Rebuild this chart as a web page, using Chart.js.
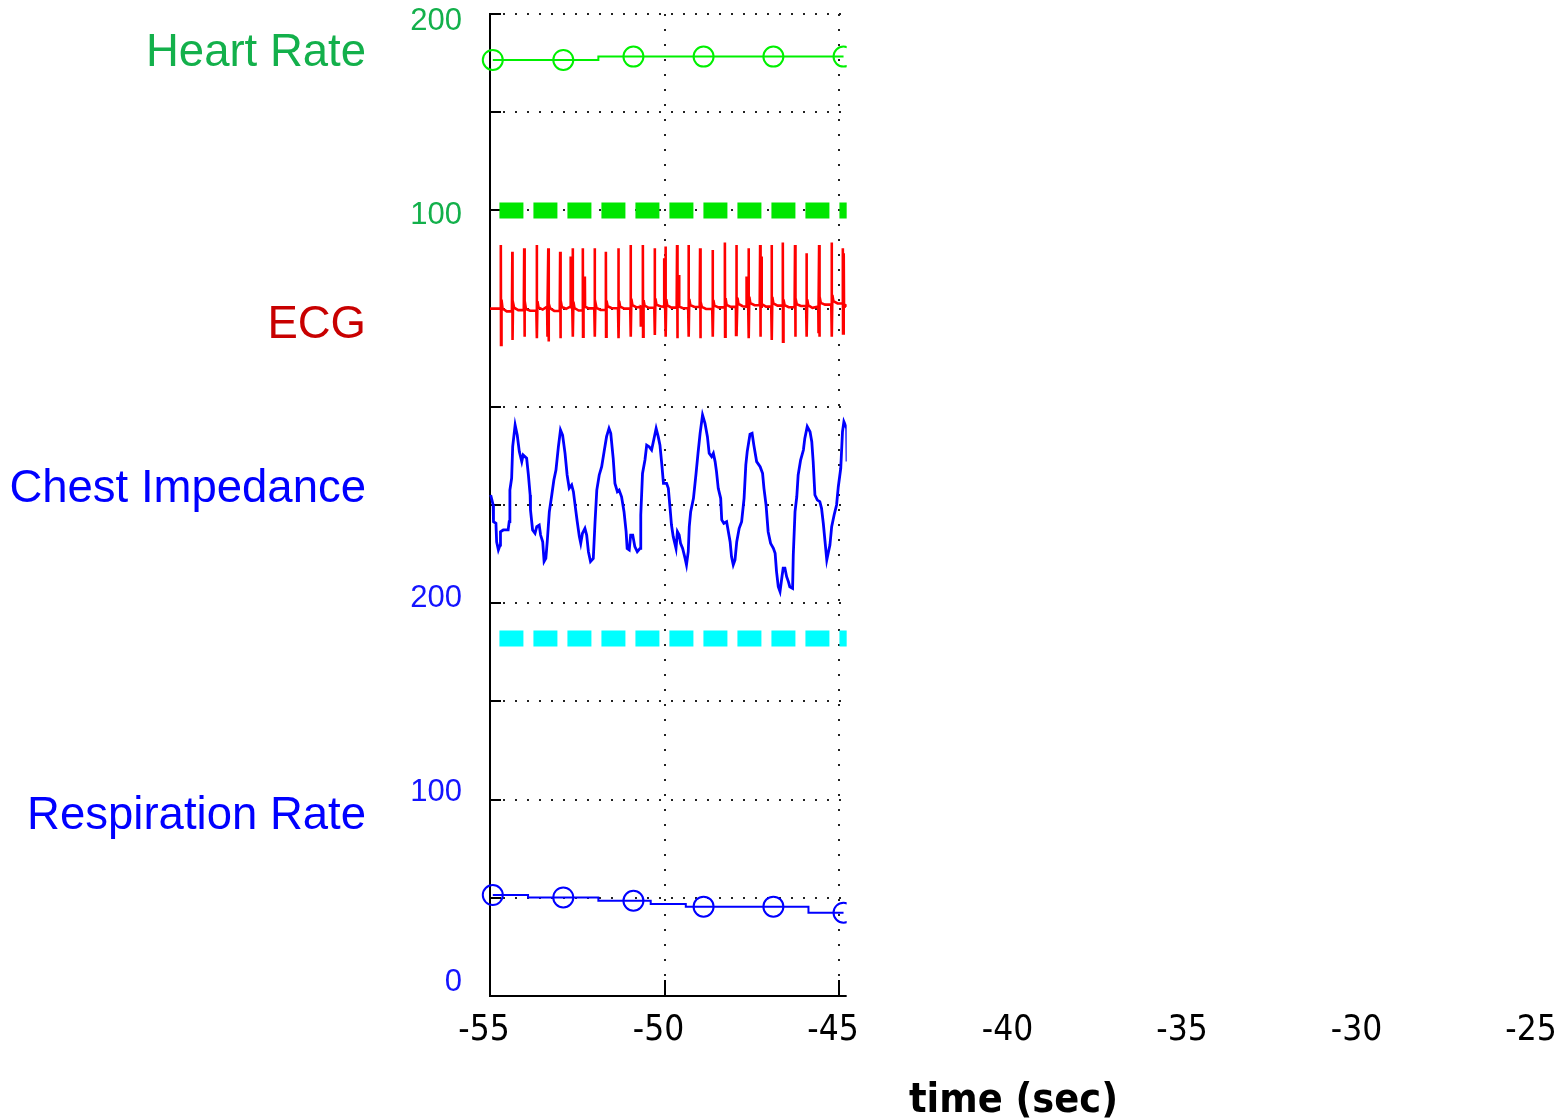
<!DOCTYPE html>
<html>
<head>
<meta charset="utf-8">
<title>Vital signs strip</title>
<script src="https://cdn.jsdelivr.net/npm/chart.js@4.4.1/dist/chart.umd.min.js"></script>
<style>
  html, body { margin: 0; padding: 0; background: #fff; }
  #strip { display: block; }
</style>
</head>
<body>
<canvas id="strip" width="1564" height="1118"></canvas>
<script>
// time window (seconds before now); samples stop at recordEnd
const axisMin = -55, axisMax = -25, recordEnd = -44.78;

// y strip runs 0..500: respiration 0..200 at the bottom, heart rate 100..200 on top (offset by hrOffset)
const hrOffset = 300;
const gridStep = 50;
const yTickValues = [0, 100, 200, 400, 500];
const yTickLabels = ['0', '100', '200', '100', '200'];

// heart rate (bpm), one value every 2 s
const hrTime = [-54.92, -52.90, -50.89, -48.88, -46.88, -44.87];
const hrBpm  = [176.6, 176.6, 178.3, 178.3, 178.3, 178.3];
const hrAlarm = 100;

// respiration rate (breaths/min); the sample at -49.9 has no marker
const respTime   = [-54.92, -52.90, -50.89, -49.90, -48.88, -46.88, -44.87];
const respRate   = [51.4, 50.2, 48.5, 46.8, 45.5, 45.5, 42.4];
const respMarked = [true, true, true, false, true, true, true];
const respAlarm = 182;

// ECG beats (strip units): R peak, S trough, J point, baseline after the beat, mid-interval level
const ecgBeatTime = [-54.69, -54.36, -54.02, -53.66, -53.33, -52.99, -52.63, -52.34, -52.00, -51.68,
                     -51.32, -50.97, -50.62, -50.28, -49.97, -49.64, -49.31, -48.98, -48.62, -48.27,
                     -47.93, -47.59, -47.26, -46.93, -46.61, -46.26, -45.93, -45.57, -45.21, -44.89];
const ecgR = [382.4, 379.0, 380.7, 382.4, 380.7, 379.0, 380.7, 380.7, 380.7, 379.0,
              380.7, 382.4, 382.4, 380.7, 381.6, 382.4, 382.4, 380.7, 379.9, 383.6,
              382.4, 380.7, 382.4, 382.4, 383.6, 382.4, 378.2, 382.4, 383.6, 380.7];
const ecgS = [331.5, 334.0, 335.7, 334.9, 333.2, 334.9, 335.7, 335.7, 335.7, 335.7,
              334.9, 335.7, 335.7, 336.6, 335.7, 334.9, 335.7, 334.9, 335.7, 335.7,
              336.6, 334.9, 335.7, 334.0, 333.2, 335.7, 335.7, 335.7, 335.7, 337.4];
const ecgJ = [354.5, 353.0, 354.0, 353.8, 352.6, 354.2, 353.5, 354.6, 353.1, 354.0,
              353.9, 355.0, 354.3, 355.2, 354.8, 353.9, 354.9, 353.6, 354.4, 355.3,
              355.5, 356.0, 355.1, 355.9, 354.6, 355.4, 354.7, 356.1, 357.0, 355.2];
const ecgBase = [350.0, 350.5, 349.8, 350.6, 350.2, 350.8, 350.3, 351.0, 350.4, 351.2,
                 351.0, 351.8, 351.5, 352.0, 351.6, 351.2, 351.8, 350.9, 351.5, 351.9,
                 352.4, 352.8, 352.3, 352.6, 351.8, 352.2, 351.6, 352.9, 353.8, 352.0];
const ecgMid = [348.6, 349.2, 348.9, 349.5, 348.8, 349.9, 349.0, 350.1, 349.3, 350.2,
                350.0, 350.6, 350.4, 351.1, 350.5, 350.2, 350.8, 349.8, 350.6, 350.9,
                351.2, 351.7, 351.0, 351.5, 350.7, 351.3, 350.4, 352.0, 352.6, 351.0];
// extra notches next to some beats
const ecgExtraTime  = [-53.36, -52.69, -52.28, -50.68, -50.01, -49.58, -47.95, -47.65, -47.22, -45.59, -44.86];
const ecgExtraValue = [335.7, 376.5, 366.3, 340.8, 375.6, 367.1, 336.6, 366.3, 376.5, 337.4, 378.2];

// chest impedance trace (strip units)
const impTime = [-54.98, -54.91, -54.90, -54.83, -54.81, -54.76, -54.71, -54.70, -54.62, -54.48,
  -54.45, -54.43, -54.38, -54.35, -54.28, -54.22, -54.16, -54.09, -54.05, -53.95,
  -53.90, -53.85, -53.84, -53.78, -53.71, -53.66, -53.59, -53.55, -53.49, -53.45,
  -53.40, -53.36, -53.30, -53.23, -53.17, -53.11, -53.04, -52.98, -52.92, -52.85,
  -52.79, -52.73, -52.66, -52.61, -52.55, -52.50, -52.44, -52.40, -52.35, -52.28,
  -52.23, -52.18, -52.12, -52.04, -51.99, -51.94, -51.87, -51.80, -51.73, -51.66,
  -51.59, -51.54, -51.47, -51.42, -51.35, -51.30, -51.23, -51.16, -51.10, -51.07,
  -51.01, -50.97, -50.91, -50.85, -50.78, -50.70, -50.68, -50.63, -50.56, -50.51,
  -50.44, -50.37, -50.30, -50.24, -50.18, -50.13, -50.08, -50.03, -49.94, -49.89,
  -49.84, -49.80, -49.75, -49.67, -49.63, -49.58, -49.54, -49.48, -49.41, -49.37,
  -49.32, -49.29, -49.25, -49.17, -49.10, -49.04, -48.98, -48.91, -48.84, -48.77,
  -48.72, -48.65, -48.60, -48.55, -48.51, -48.46, -48.39, -48.36, -48.30, -48.22,
  -48.17, -48.12, -48.08, -48.03, -47.98, -47.93, -47.86, -47.79, -47.72, -47.67,
  -47.63, -47.55, -47.49, -47.44, -47.36, -47.26, -47.19, -47.15, -47.09, -47.03,
  -46.96, -46.88, -46.83, -46.79, -46.74, -46.69, -46.64, -46.60, -46.55, -46.50,
  -46.45, -46.41, -46.33, -46.31, -46.26, -46.21, -46.17, -46.10, -46.02, -45.98,
  -45.91, -45.83, -45.78, -45.74, -45.69, -45.62, -45.55, -45.50, -45.45, -45.40,
  -45.35, -45.31, -45.26, -45.21, -45.14, -45.07, -45.02, -44.95, -44.90, -44.86,
  -44.78, -44.77];
const impValue = [255.1, 250.0, 241.5, 240.7, 231.3, 227.1, 229.6, 236.4, 237.3, 237.3,
  241.5, 257.6, 263.6, 279.7, 290.7, 285.6, 277.2, 272.1, 275.5, 273.8,
  265.3, 255.1, 247.5, 237.3, 235.6, 239.0, 239.8, 234.7, 231.3, 221.2,
  222.8, 231.3, 246.6, 255.1, 262.7, 267.8, 279.7, 288.2, 285.6, 276.3,
  265.3, 258.5, 260.2, 256.8, 248.3, 241.5, 233.9, 230.5, 235.6, 238.1,
  234.7, 226.2, 221.2, 222.8, 241.5, 257.6, 265.3, 269.5, 277.2, 284.8,
  289.0, 286.5, 273.8, 261.0, 256.8, 257.6, 254.2, 246.6, 236.4, 227.9,
  227.1, 234.7, 234.7, 228.8, 226.2, 227.9, 244.9, 266.1, 272.9, 280.5,
  279.7, 278.0, 283.9, 289.0, 284.8, 280.5, 271.2, 261.0, 261.0, 258.5,
  248.3, 239.8, 233.9, 227.9, 236.4, 234.7, 230.5, 227.9, 222.8, 219.5,
  226.2, 239.0, 246.6, 253.4, 265.3, 276.3, 286.5, 295.8, 291.6, 284.8,
  276.3, 274.6, 276.3, 272.1, 267.0, 258.5, 253.4, 242.4, 240.7, 241.5,
  236.4, 231.3, 223.7, 219.5, 222.0, 231.3, 238.1, 241.5, 253.4, 270.4,
  277.2, 286.0, 286.5, 280.5, 272.1, 269.5, 266.1, 258.5, 250.0, 236.4,
  230.5, 227.9, 225.4, 216.1, 208.4, 205.9, 212.7, 217.8, 217.8, 213.5,
  211.0, 208.4, 207.6, 224.5, 246.6, 254.2, 265.3, 272.9, 278.0, 283.9,
  289.9, 287.3, 282.2, 272.1, 255.1, 252.5, 251.7, 248.3, 240.7, 231.3,
  222.0, 225.4, 229.6, 239.0, 244.9, 250.0, 259.3, 268.7, 287.3, 292.4,
  289.0, 272.1];

// left-hand trace names, placed at a strip level
const stripLabels = [
  { text: 'Heart Rate', color: '#13b04b', level: 480 },
  { text: 'ECG', color: '#c80000', level: 341.5 },
  { text: 'Chest Impedance', color: '#0000ff', level: 258 },
  { text: 'Respiration Rate', color: '#0000ff', level: 91.5 }
];
// y tick text sits a little off its grid line (strip units)
const yLabelShift = [7, 3.6, 2.3, -2.5, -4];

const pair = (xs, ys) => xs.map((x, i) => ({ x, y: ys[i] }));

// ECG polyline from the beat table
const ecgPoints = [{ x: axisMin, y: ecgBase[0] }];
ecgBeatTime.forEach((t, i) => {
  ecgPoints.push({ x: t - 0.012, y: i ? ecgMid[i - 1] : ecgBase[0] },
                 { x: t, y: ecgR[i] },
                 { x: t + 0.006, y: ecgS[i] },
                 { x: t + 0.02, y: ecgJ[i] },
                 { x: t + 0.05, y: ecgBase[i] },
                 { x: t + 0.17, y: ecgMid[i] });
});
ecgExtraTime.forEach((t, i) => {
  ecgPoints.push({ x: t - 0.004, y: 351 }, { x: t, y: ecgExtraValue[i] }, { x: t + 0.004, y: 351 });
});
ecgPoints.sort((a, b) => a.x - b.x);

const condensed = '"DejaVu Sans Condensed", "Liberation Sans Narrow", sans-serif';
const onGrid = v => Math.abs(v / gridStep - Math.round(v / gridStep)) < 1e-6;
const labelIndex = v => yTickValues.findIndex((t, k) => Math.abs(t + yLabelShift[k] - v) < 1e-6);

// samples end at recordEnd; everything right of it inside the plot is blank
const cutRight = {
  id: 'cutRight',
  beforeDraw(chart) {
    const { ctx, chartArea, width, height } = chart;
    const edge = chart.scales.x.getPixelForValue(recordEnd);
    ctx.save();
    ctx.beginPath();
    ctx.rect(0, 0, edge, chartArea.bottom + 2);
    ctx.rect(0, chartArea.bottom + 2, width, height);
    ctx.clip();
  },
  afterDraw(chart) {
    chart.ctx.restore();
  }
};

const traceNames = {
  id: 'traceNames',
  afterDraw(chart) {
    const { ctx } = chart;
    const y = chart.scales.y;
    ctx.save();
    ctx.font = '45.5px "Liberation Sans", Arial, sans-serif';
    ctx.textAlign = 'right';
    ctx.textBaseline = 'middle';
    stripLabels.forEach(l => {
      ctx.fillStyle = l.color;
      ctx.fillText(l.text, 366, y.getPixelForValue(l.level));
    });
    ctx.restore();
  }
};

new Chart(document.getElementById('strip'), {
  type: 'line',
  data: {
    datasets: [
      { label: 'Heart Rate', data: hrTime.map((t, i) => ({ x: t, y: hrBpm[i] + hrOffset })),
        stepped: 'middle', borderColor: '#00f000', borderWidth: 2,
        pointRadius: 10, pointBorderColor: '#00f000', pointBorderWidth: 2, pointBackgroundColor: 'rgba(0,0,0,0)' },
      { label: 'HR alarm', data: [{ x: -54.73, y: hrAlarm + hrOffset }, { x: -44.4, y: hrAlarm + hrOffset }],
        borderColor: '#00e600', borderWidth: 16, borderDash: [24, 10], borderCapStyle: 'butt', pointRadius: 0 },
      { label: 'ECG', data: ecgPoints, borderColor: '#ff0000', borderWidth: 2.6, pointRadius: 0 },
      { label: 'Chest Impedance', data: pair(impTime, impValue), borderColor: '#0000ff', borderWidth: 2.8, pointRadius: 0 },
      { label: 'Resp alarm', data: [{ x: -54.73, y: respAlarm }, { x: -44.4, y: respAlarm }],
        borderColor: '#00ffff', borderWidth: 16, borderDash: [24, 10], borderCapStyle: 'butt', pointRadius: 0 },
      { label: 'Respiration Rate', data: pair(respTime, respRate),
        stepped: 'middle', borderColor: '#0000ff', borderWidth: 2,
        pointRadius: c => respMarked[c.dataIndex] ? 10 : 0,
        pointBorderColor: '#0000ff', pointBorderWidth: 2, pointBackgroundColor: 'rgba(0,0,0,0)' }
    ].map(d => Object.assign({ clip: false, tension: 0, fill: false }, d))
  },
  options: {
    responsive: false,
    animation: false,
    events: [],
    layout: { padding: { left: 0, top: 14, right: 27, bottom: 0 } },
    plugins: { legend: { display: false }, tooltip: { enabled: false } },
    scales: {
      x: {
        type: 'linear', min: axisMin, max: axisMax,
        afterFit: s => { s.height = 122; s.paddingLeft = 0; s.paddingRight = 0; },
        ticks: { stepSize: 5, color: '#000', padding: 30, labelOffset: -6,
                 font: { family: condensed, size: 35 } },
        grid: { color: '#222', lineWidth: 2, tickLength: -16, tickColor: '#000', tickWidth: 2 },
        border: { display: true, color: '#000', width: 2, dash: [2, 13] },
        title: { display: true, text: 'time (sec)', color: '#000',
                 font: { family: condensed, size: 41, weight: 'bold', lineHeight: 1 },
                 padding: { top: 0, bottom: -4 } }
      },
      y: {
        type: 'linear', min: 0, max: 500,
        afterFit: s => { s.width = 490; s.paddingTop = 0; s.paddingBottom = 0; },
        // grid lines every gridStep, plus text-only ticks for the labels
        afterBuildTicks: s => {
          const ticks = [];
          for (let v = 0; v <= 500; v += gridStep) ticks.push({ value: v });
          yTickValues.forEach((v, k) => ticks.push({ value: v + yLabelShift[k] }));
          s.ticks = ticks.sort((a, b) => a.value - b.value);
        },
        ticks: {
          autoSkip: false, padding: 39,
          callback: v => { const k = labelIndex(v); return k < 0 ? '' : yTickLabels[k]; },
          color: c => (c.tick && c.tick.value >= 350) ? '#13b04b' : '#1414ff',
          font: { family: '"Liberation Sans", Arial, sans-serif', size: 31 }
        },
        grid: { color: c => onGrid(c.tick.value) ? '#222' : 'rgba(0,0,0,0)', lineWidth: 2, tickLength: -11,
                tickColor: c => onGrid(c.tick.value) ? '#000' : 'rgba(0,0,0,0)', tickWidth: 2 },
        border: { display: true, color: '#000', width: 2, dash: [2, 10] }
      }
    }
  },
  plugins: [cutRight, traceNames]
});
</script>
</body>
</html>
